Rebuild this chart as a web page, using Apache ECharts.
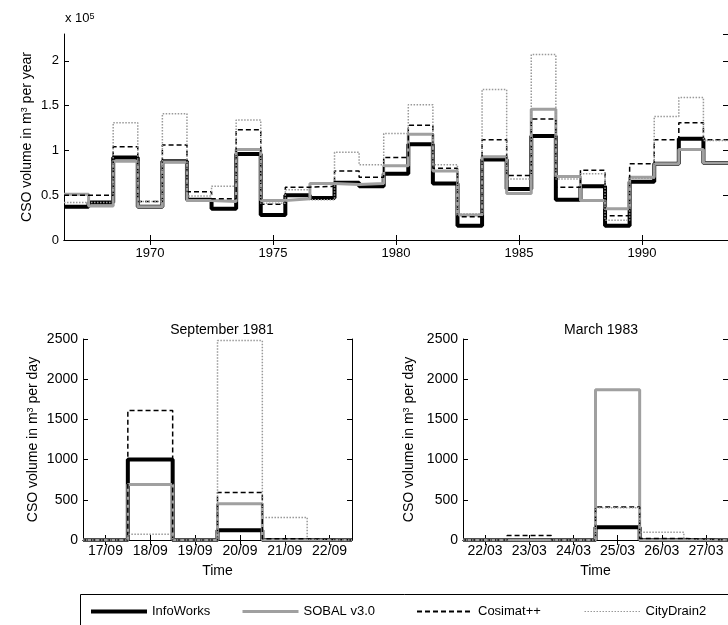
<!DOCTYPE html>
<html>
<head>
<meta charset="utf-8">
<script src="https://cdn.jsdelivr.net/npm/echarts@6/dist/echarts.min.js"></script>
<style>
  body { margin: 0; background: #fff; }
  #chart { width: 728px; height: 625px; }
</style>
</head>
<body>
<div id="chart"></div>
<script>
// yearly CSO volume, in units of 1e5 m3
const years = [1967, 1968, 1969, 1970, 1971, 1972, 1973, 1974, 1975, 1976, 1977, 1978, 1979, 1980,
               1981, 1982, 1983, 1984, 1985, 1986, 1987, 1988, 1989, 1990, 1991, 1992, 1993];
const yearInfoWorks = [0.37, 0.42, 0.92, 0.37, 0.88, 0.45, 0.35, 0.96, 0.28, 0.50, 0.47, 0.64, 0.60, 0.74,
                       1.07, 0.63, 0.16, 0.90, 0.57, 1.16, 0.45, 0.60, 0.16, 0.65, 0.85, 1.13, 0.86];
const yearSobal     = [0.51, 0.38, 0.88, 0.37, 0.87, 0.44, 0.43, 1.01, 0.44, 0.46, 0.63, 0.62, 0.63, 0.83,
                       1.18, 0.77, 0.28, 0.93, 0.52, 1.46, 0.71, 0.44, 0.35, 0.70, 0.85, 1.01, 0.86];
const yearCosimat   = [0.50, 0.50, 1.04, 0.43, 1.06, 0.54, 0.46, 1.23, 0.40, 0.59, 0.60, 0.77, 0.70, 0.92,
                       1.28, 0.80, 0.26, 1.12, 0.72, 1.35, 0.59, 0.78, 0.27, 0.85, 1.12, 1.31, 1.12];
const yearCityDrain = [0.42, 0.42, 1.31, 0.43, 1.41, 0.49, 0.60, 1.34, 0.41, 0.56, 0.45, 0.98, 0.84, 1.19,
                       1.51, 0.84, 0.29, 1.68, 0.68, 2.07, 0.68, 0.74, 0.22, 0.69, 1.38, 1.59, 1.11];
const yearTicks = [1970, 1975, 1980, 1985, 1990];

// daily CSO volume, m3 per day
const sepDays = [17, 18, 19, 20, 21, 22];
const sepLabels = ['17/09', '18/09', '19/09', '20/09', '21/09', '22/09'];
const sepInfoWorks = [0, 1000, 0, 120, 0, 0];
const sepSobal     = [0, 690, 0, 450, 0, 0];
const sepCosimat   = [0, 1610, 0, 590, 15, 0];
const sepCityDrain = [0, 70, 0, 2480, 280, 0];

const marDays = [22, 23, 24, 25, 26, 27];
const marLabels = ['22/03', '23/03', '24/03', '25/03', '26/03', '27/03'];
const marInfoWorks = [0, 0, 0, 160, 0, 0];
const marSobal     = [0, 0, 0, 1870, 0, 0];
const marCosimat   = [0, 55, 0, 410, 20, 0];
const marCityDrain = [0, 0, 0, 400, 95, 0];

const models = ['InfoWorks', 'SOBAL v3.0', 'Cosimat++', 'CityDrain2'];

const FONT = 'Liberation Sans, Arial, sans-serif';
const lineStyles = {
  'InfoWorks':  { color: '#000', width: 4, type: 'solid' },
  'SOBAL v3.0': { color: '#a0a0a0', width: 3, type: 'solid' },
  'Cosimat++':  { color: '#000', width: 1.5, type: [5, 3] },
  'CityDrain2': { color: '#999', width: 1.5, type: [1.5, 1.5] }
};
const legendLineWidth = { 'InfoWorks': 4, 'SOBAL v3.0': 3, 'Cosimat++': 2, 'CityDrain2': 1 };

// each value covers x-0.5 .. x+0.5
function steps(xs, vs) {
  const pts = xs.map((x, i) => [x - 0.5, vs[i]]);
  pts.push([xs[xs.length - 1] + 0.5, vs[vs.length - 1]]);
  return pts;
}

function makeSeries(axisIdx, xs, lists) {
  return models.map((name, i) => ({
    name: name,
    type: 'line',
    step: 'end',
    xAxisIndex: axisIdx,
    yAxisIndex: axisIdx,
    symbol: 'none',
    clip: false,
    silent: true,
    animation: false,
    lineStyle: lineStyles[name],
    itemStyle: { color: lineStyles[name].color },
    data: steps(xs, lists[i])
  }));
}

const axisLine = { show: true, lineStyle: { color: '#000', width: 1 } };
const tick = { show: true, inside: true, length: 5, lineStyle: { color: '#000' } };
function labelStyle(size) { return { color: '#000', fontSize: size, fontFamily: FONT }; }
const nameStyle = {
  color: '#000', fontSize: 14, fontFamily: FONT,
  rich: { sup: { fontSize: 9, verticalAlign: 'top', fontFamily: FONT, color: '#000' } }
};

function bottomX(grid, min, max, ticks, fmt, name, size, margin) {
  return {
    type: 'value', gridIndex: grid, position: 'bottom', min: min, max: max,
    axisLine: axisLine, splitLine: { show: false },
    axisTick: Object.assign({ customValues: ticks }, tick),
    axisLabel: Object.assign({ customValues: ticks, margin: margin, formatter: fmt }, labelStyle(size)),
    name: name, nameLocation: 'middle', nameGap: 24, nameMoveOverlap: false, nameTextStyle: nameStyle
  };
}
function topX(grid, min, max, ticks) {
  return {
    type: 'value', gridIndex: grid, position: 'top', min: min, max: max,
    axisLine: axisLine, splitLine: { show: false },
    axisTick: Object.assign({ customValues: ticks }, tick),
    axisLabel: { show: false }
  };
}
function leftY(grid, max, interval, name, gap, size) {
  return {
    type: 'value', gridIndex: grid, position: 'left', min: 0, max: max, interval: interval,
    axisLine: axisLine, splitLine: { show: false }, axisTick: tick,
    axisLabel: Object.assign({ showMaxLabel: max % interval === 0, margin: 5, formatter: v => String(v) }, labelStyle(size)),
    name: name, nameLocation: 'middle', nameRotate: 90, nameGap: gap, nameMoveOverlap: false,
    nameTextStyle: nameStyle
  };
}
function rightY(grid, max, interval) {
  return {
    type: 'value', gridIndex: grid, position: 'right', min: 0, max: max, interval: interval,
    axisLine: axisLine, splitLine: { show: false }, axisTick: tick,
    axisLabel: { show: false }
  };
}

const legendPos = [89, 241, 416, 584];

const option = {
  animation: false,
  backgroundColor: '#fff',
  textStyle: { fontFamily: FONT },
  grid: [
    { left: 64, top: 34, width: 666, height: 206 },
    { left: 83, top: 339, width: 269, height: 201 },
    { left: 463, top: 339, width: 267, height: 201 }
  ],
  title: [
    { text: 'September 1981', left: 217, top: 318, textAlign: 'center',
      textStyle: { fontSize: 14, fontWeight: 'normal', color: '#000', fontFamily: FONT } },
    { text: 'March 1983', left: 596, top: 318, textAlign: 'center',
      textStyle: { fontSize: 14, fontWeight: 'normal', color: '#000', fontFamily: FONT } }
  ],
  legend: models.map((name, i) => ({
    data: [name],
    left: legendPos[i],
    top: 605,
    padding: 0,
    itemWidth: 56,
    itemHeight: 14,
    selectedMode: false,
    itemStyle: { color: 'rgba(0,0,0,0)', borderWidth: 0, opacity: 0 },
    lineStyle: { width: legendLineWidth[name] },
    textStyle: { fontSize: 13, color: '#000', fontFamily: FONT }
  })),
  xAxis: [
    bottomX(0, 1966.5, 1993.5, yearTicks, v => String(v), '', 13, 7),
    topX(0, 1966.5, 1993.5, yearTicks),
    bottomX(1, 16.5, 22.5, sepDays, v => sepLabels[sepDays.indexOf(v)], 'Time', 14, 4),
    topX(1, 16.5, 22.5, sepDays),
    bottomX(2, 21.5, 27.5, marDays, v => marLabels[marDays.indexOf(v)], 'Time', 14, 4),
    topX(2, 21.5, 27.5, marDays)
  ],
  yAxis: [
    leftY(0, 2.3, 0.5, 'CSO volume in m{sup|3} per year', 30, 13),
    rightY(0, 2.3, 0.5),
    leftY(1, 2500, 500, 'CSO volume in m{sup|3} per day', 43, 14),
    rightY(1, 2500, 500),
    leftY(2, 2500, 500, 'CSO volume in m{sup|3} per day', 47, 14),
    rightY(2, 2500, 500)
  ],
  graphic: [
    {
      type: 'text', left: 65, top: 12,
      style: {
        text: 'x 10{sup|5}', fill: '#000', font: '13px ' + FONT,
        rich: { sup: { fontSize: 9, verticalAlign: 'top', fontFamily: FONT, fill: '#000' } }
      }
    },
    {
      type: 'rect', left: 78, top: 592,
      shape: { width: 700, height: 45 },
      style: { fill: 'none', stroke: '#000', lineWidth: 1 }
    }
  ],
  series: [].concat(
    makeSeries(0, years, [yearInfoWorks, yearSobal, yearCosimat, yearCityDrain]),
    makeSeries(2, sepDays, [sepInfoWorks, sepSobal, sepCosimat, sepCityDrain]),
    makeSeries(4, marDays, [marInfoWorks, marSobal, marCosimat, marCityDrain])
  )
};

const chart = echarts.init(document.getElementById('chart'), null, { renderer: 'canvas' });
chart.setOption(option);
</script>
</body>
</html>
